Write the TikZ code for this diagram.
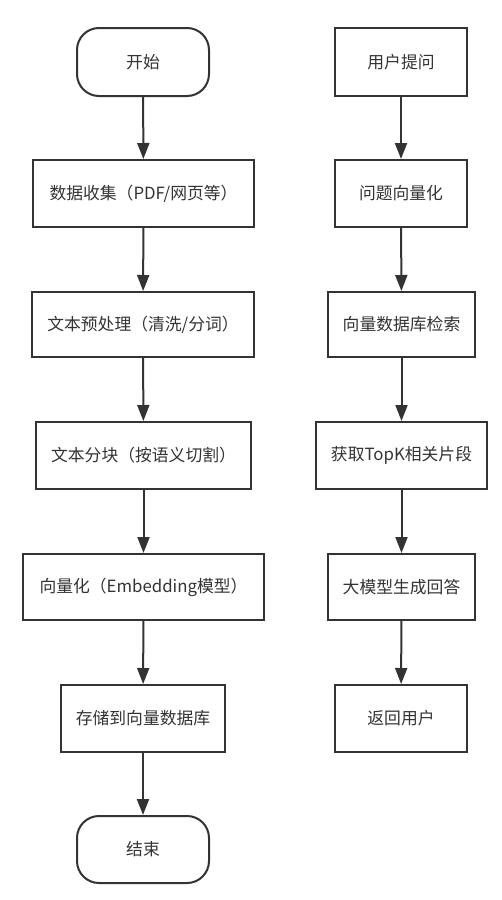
\documentclass[tikz,border=0pt]{standalone}
\usepackage{fontspec}
\setmainfont{Noto Sans CJK SC}
\usetikzlibrary{arrows.meta}
\definecolor{ink}{HTML}{333333}
\tikzset{
  x=1pt,y=-1pt,
  box/.style={draw=ink,line width=2pt,text=ink,font=\fontsize{16.8}{18}\selectfont,inner sep=0pt},
  term/.style={box,rounded corners=22pt},
  flow/.style={draw=ink,line width=2pt,-{Triangle[length=16pt,width=12pt]}}
}
\newcommand{\boxat}[6]{\node[#1,minimum width=#4-#2,minimum height=#5-#3] (#6) at ({(#2+#4)/2},{(#3+#5)/2})}
\begin{document}
\begin{tikzpicture}
\useasboundingbox[fill=white] (0,0) rectangle (501,900);
% left column
\boxat{term}{77}{28}{209}{96}{s} {开始};
\boxat{box}{33}{160}{254}{227}{a1} {数据收集（PDF/网页等）};
\boxat{box}{32}{292}{254}{357}{a2} {文本预处理（清洗/分词）};
\boxat{box}{36}{422}{251}{489}{a3} {文本分块（按语义切割）};
\boxat{box}{23}{554}{264}{620}{a4} {向量化（Embedding模型）};
\boxat{box}{61}{685}{225}{752}{a5} {存储到向量数据库};
\boxat{term}{77}{816}{209}{883}{e} {结束};
% right column
\boxat{box}{335}{28}{467}{96}{b1} {用户提问};
\boxat{box}{335}{160}{467}{227}{b2} {问题向量化};
\boxat{box}{328}{292}{475}{357}{b3} {向量数据库检索};
\boxat{box}{316}{422}{487}{489}{b4} {获取TopK相关片段};
\boxat{box}{328}{554}{475}{620}{b5} {大模型生成回答};
\boxat{box}{335}{685}{467}{752}{b6} {返回用户};
\draw[flow] (s) -- (a1);
\draw[flow] (a1) -- (a2);
\draw[flow] (a2) -- (a3);
\draw[flow] (a3) -- (a4);
\draw[flow] (a4) -- (a5);
\draw[flow] (a5) -- (e);
\draw[flow] (b1) -- (b2);
\draw[flow] (b2) -- (b3);
\draw[flow] (b3) -- (b4);
\draw[flow] (b4) -- (b5);
\draw[flow] (b5) -- (b6);
\end{tikzpicture}
\end{document}
